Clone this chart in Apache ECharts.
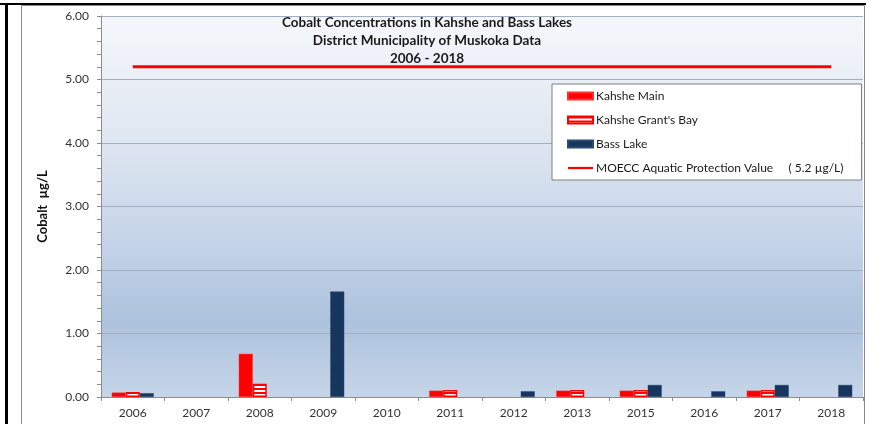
<!DOCTYPE html>
<html>
<head>
<meta charset="utf-8">
<title>Cobalt Concentrations in Kahshe and Bass Lakes</title>
<script src="https://cdn.jsdelivr.net/npm/echarts@6/dist/echarts.min.js"></script>
<style>
  html, body { margin: 0; padding: 0; background: #ffffff; }
  #chart { width: 884px; height: 424px; }
</style>
</head>
<body>
<div id="chart"></div>
<script>
// Sampling years (2014 was not sampled)
const years = ['2006', '2007', '2008', '2009', '2010', '2011', '2012', '2013', '2015', '2016', '2017', '2018'];

// Cobalt, µg/L ('-' = no result)
const kahsheMain = [0.07, '-', 0.68, '-', '-', 0.10, '-', 0.10, 0.10, '-', 0.10, '-'];
const kahsheGrantsBay = [0.08, '-', 0.21, '-', '-', 0.11, '-', 0.11, 0.11, '-', 0.11, '-'];
const bassLake = [0.06, '-', '-', 1.66, '-', '-', 0.09, '-', 0.19, 0.09, 0.19, 0.19];

// Provincial aquatic protection value
const moeccValue = 5.2;
const moeccLine = years.map(() => moeccValue);

const yTicks = [0, 1, 2, 3, 4, 5, 6];

const titleLines = [
  'Cobalt Concentrations in Kahshe and Bass Lakes',
  'District Municipality of Muskoka Data',
  '2006 - 2018'
];

const seriesNames = [
  'Kahshe Main',
  "Kahshe Grant's Bay",
  'Bass Lake',
  'MOECC Aquatic Protection Value     ( 5.2 µg/L)'
];

const FONT = 'Lato, "Open Sans", sans-serif';

// Legend key for the guideline: a thin bar in the middle of a 25x7 box
// (the two leading moves keep the full box as the icon's bounds)
const LINE_KEY = 'path://M0,0M25,7M0,2.4H25V4.6H0Z';

// Horizontal red/white stripes for the Grant's Bay bars
function stripePattern() {
  const c = document.createElement('canvas');
  c.width = 4;
  c.height = 4;
  const ctx = c.getContext('2d');
  ctx.fillStyle = '#ffffff';
  ctx.fillRect(0, 0, 4, 4);
  ctx.fillStyle = '#ff0000';
  ctx.fillRect(0, 0, 4, 2);
  return c;
}

const chart = echarts.init(document.getElementById('chart'), null, { renderer: 'canvas' });

const option = {
  backgroundColor: '#ffffff',
  animation: false,
  title: {
    text: titleLines.join('\n'),
    left: 427,
    top: 14,
    padding: 0,
    textAlign: 'center',
    textStyle: {
      fontFamily: FONT,
      fontSize: 13.5,
      fontWeight: 'bold',
      color: '#1a1a1a',
      lineHeight: 18
    }
  },
  legend: {
    orient: 'vertical',
    left: 552,
    top: 84,
    padding: [5, 18, 5, 15],
    itemGap: 10,
    itemWidth: 25,
    itemHeight: 7,
    backgroundColor: '#ffffff',
    borderColor: '#7f7f7f',
    borderWidth: 1,
    textStyle: {
      fontFamily: FONT,
      fontSize: 12,
      color: '#1a1a1a',
      lineHeight: 14,
      padding: [0, 0, 0, -2]
    },
    data: [
      { name: seriesNames[0], icon: 'rect' },
      { name: seriesNames[1], icon: 'rect' },
      { name: seriesNames[2], icon: 'rect' },
      { name: seriesNames[3], icon: LINE_KEY, itemStyle: { color: '#ff0000' } }
    ]
  },
  grid: {
    left: 101,
    right: 21,
    top: 16,
    bottom: 27,
    show: true,
    borderWidth: 0,
    backgroundColor: {
      type: 'linear', x: 0, y: 0, x2: 0, y2: 1,
      colorStops: [
        { offset: 0, color: '#f5f7fb' },
        { offset: 0.3, color: '#e1e8f2' },
        { offset: 0.55, color: '#c9d7ea' },
        { offset: 0.8, color: '#adc2dd' },
        { offset: 1, color: '#c6d5e8' }
      ]
    }
  },
  xAxis: {
    type: 'category',
    data: years,
    boundaryGap: true,
    axisLine: { show: true, lineStyle: { color: '#8c8c8c', width: 1 } },
    axisTick: { show: true, length: 4, lineStyle: { color: '#8c8c8c' } },
    axisLabel: {
      margin: 10,
      fontFamily: FONT,
      fontSize: 12,
      color: '#333333'
    },
    splitLine: { show: false }
  },
  yAxis: {
    type: 'value',
    min: 0,
    max: yTicks[yTicks.length - 1],
    interval: 1,
    name: 'Cobalt  µg/L',
    nameLocation: 'middle',
    nameGap: 52,
    nameTextStyle: {
      fontFamily: FONT,
      fontSize: 13,
      fontWeight: 'bold',
      color: '#111111'
    },
    axisLine: { show: true, lineStyle: { color: '#8c8c8c', width: 1 } },
    axisTick: { show: true, length: 4, lineStyle: { color: '#8c8c8c' } },
    minorTick: { show: true, splitNumber: 5, length: 4, lineStyle: { color: '#8c8c8c' } },
    axisLabel: {
      margin: 12,
      fontFamily: FONT,
      fontSize: 12,
      color: '#333333',
      formatter: v => v.toFixed(2)
    },
    splitLine: { show: true, lineStyle: { color: '#a3afc0', width: 1 } }
  },
  series: [
    {
      name: seriesNames[0],
      type: 'bar',
      data: kahsheMain,
      barWidth: 14,
      barGap: '0%',
      itemStyle: { color: '#ff0000', borderColor: '#ff3030', borderWidth: 0.5 }
    },
    {
      name: seriesNames[1],
      type: 'bar',
      data: kahsheGrantsBay,
      barWidth: 14,
      barGap: '0%',
      itemStyle: {
        color: { image: stripePattern(), repeat: 'repeat' },
        borderColor: '#ff0000',
        borderWidth: 1.5
      }
    },
    {
      name: seriesNames[2],
      type: 'bar',
      data: bassLake,
      barWidth: 14,
      barGap: '0%',
      itemStyle: { color: '#17365d', borderColor: '#2a4a75', borderWidth: 0.5 }
    },
    {
      name: seriesNames[3],
      type: 'line',
      data: moeccLine,
      symbol: 'none',
      lineStyle: { color: '#ff0000', width: 3 },
      itemStyle: { color: '#ff0000' },
      z: 1
    }
  ],
  graphic: [
    // chart frame
    {
      type: 'rect', silent: true, z: -10,
      shape: { x: 21.5, y: 5.5, width: 843, height: 430 },
      style: { fill: 'none', stroke: '#8a8a8a', lineWidth: 1 }
    },
    // page rules around the chart
    {
      type: 'rect', silent: true, z: 100,
      shape: { x: 0, y: 3, width: 866, height: 2 },
      style: { fill: '#000000' }
    },
    {
      type: 'rect', silent: true, z: 100,
      shape: { x: 5, y: 4, width: 3, height: 420 },
      style: { fill: '#000000' }
    }
  ]
};

chart.setOption(option);
</script>
</body>
</html>
